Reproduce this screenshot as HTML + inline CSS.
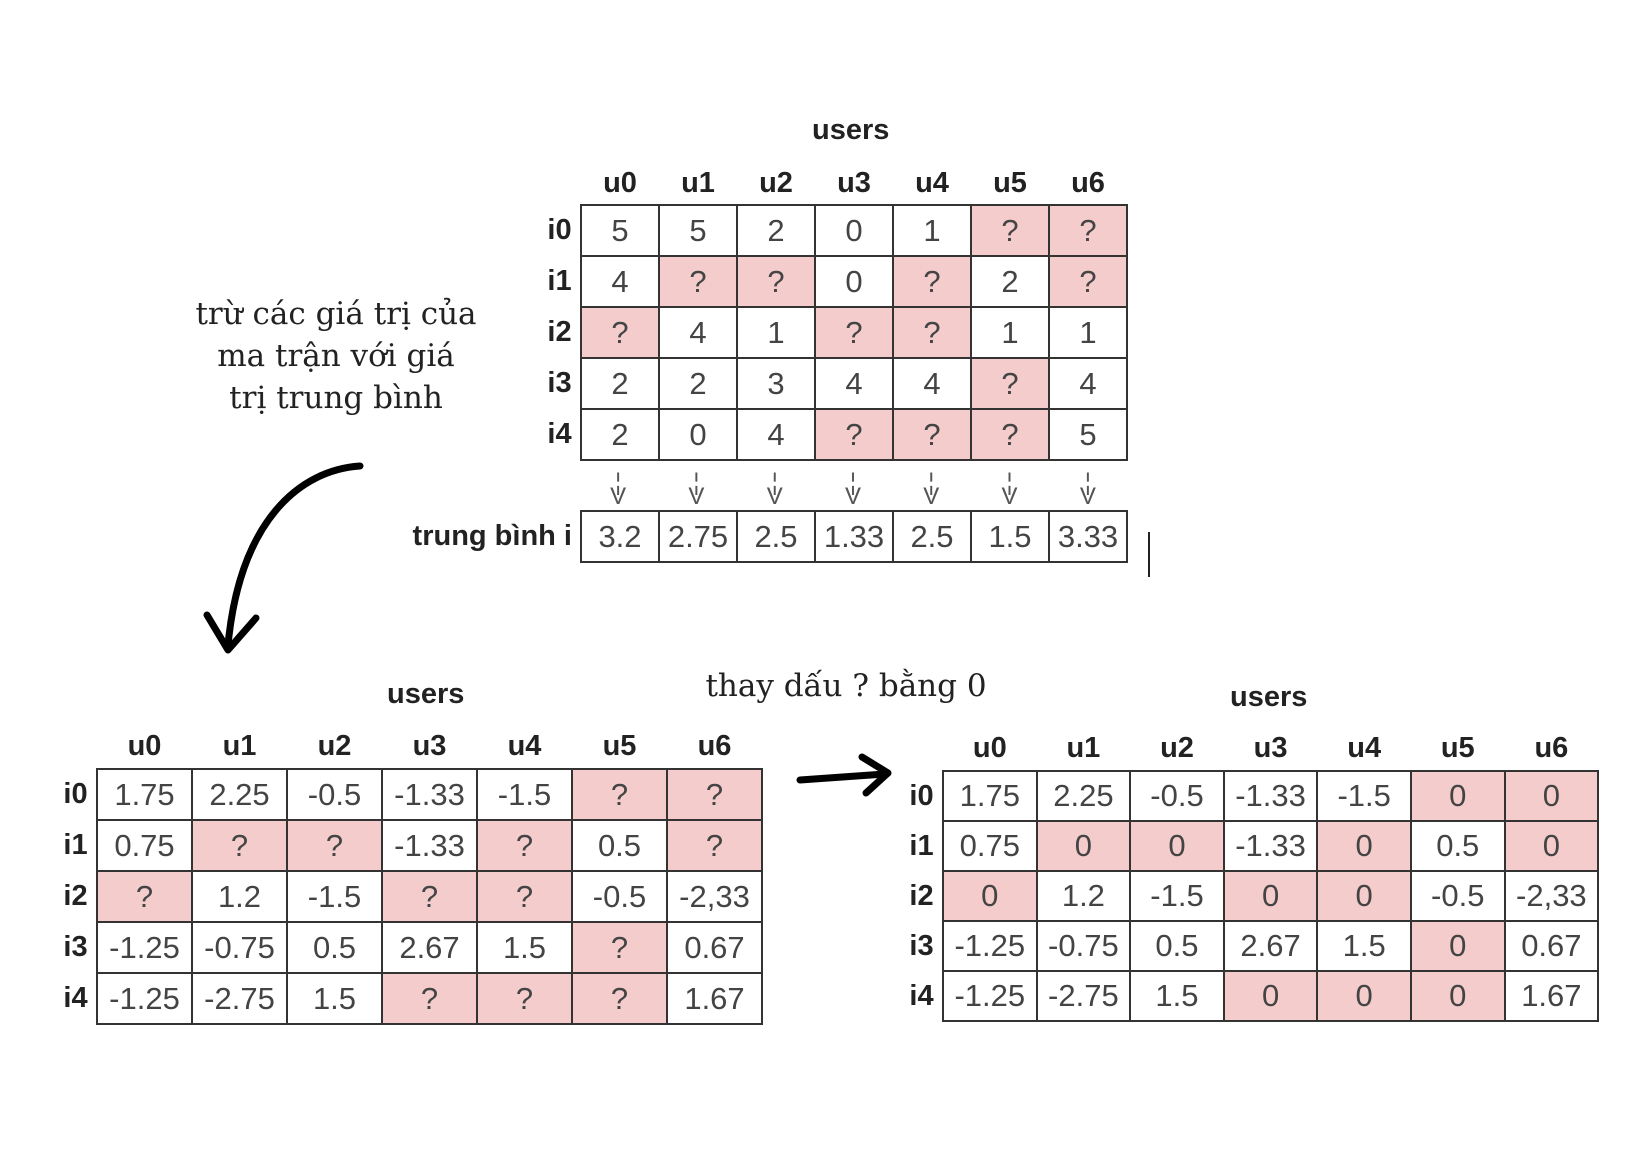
<!DOCTYPE html>
<html><head><meta charset="utf-8"><style>
body{margin:0;width:1650px;height:1171px;background:#fff;position:relative;overflow:hidden;font-family:"Liberation Sans",sans-serif}
.t{position:absolute;border-collapse:collapse}
.t td{border:2px solid #333;text-align:center;color:#444;font-size:31px;padding:0;background:#fff}
.t td.p{background:#f4cccc}
.t th{font-weight:bold;color:#222;font-size:29px;padding:0}
.lab{position:absolute;font-weight:bold;font-size:29px;color:#222}
.serif{position:absolute;font-family:"DejaVu Serif","Liberation Serif",serif;font-size:31px;color:#222;text-align:center;line-height:42px;white-space:nowrap}
</style></head><body>

<div class="lab" style="left:812px;top:114px">users</div>
<table class="t" style="left:539px;top:163px">
<tr style="height:42px"><th style="width:42px"></th><th style="width:78px">u0</th><th style="width:78px">u1</th><th style="width:78px">u2</th><th style="width:78px">u3</th><th style="width:78px">u4</th><th style="width:78px">u5</th><th style="width:78px">u6</th></tr>
<tr style="height:51px"><th>i0</th><td>5</td><td>5</td><td>2</td><td>0</td><td>1</td><td class="p">?</td><td class="p">?</td></tr>
<tr style="height:51px"><th>i1</th><td>4</td><td class="p">?</td><td class="p">?</td><td>0</td><td class="p">?</td><td>2</td><td class="p">?</td></tr>
<tr style="height:51px"><th>i2</th><td class="p">?</td><td>4</td><td>1</td><td class="p">?</td><td class="p">?</td><td>1</td><td>1</td></tr>
<tr style="height:51px"><th>i3</th><td>2</td><td>2</td><td>3</td><td>4</td><td>4</td><td class="p">?</td><td>4</td></tr>
<tr style="height:51px"><th>i4</th><td>2</td><td>0</td><td>4</td><td class="p">?</td><td class="p">?</td><td class="p">?</td><td>5</td></tr>
</table>

<div style="position:absolute;left:579px;top:476px;width:548px;display:flex;font-size:24px;color:#555;line-height:14px">
<div style="width:78.3px;text-align:center">¦<br>V</div><div style="width:78.3px;text-align:center">¦<br>V</div><div style="width:78.3px;text-align:center">¦<br>V</div><div style="width:78.3px;text-align:center">¦<br>V</div><div style="width:78.3px;text-align:center">¦<br>V</div><div style="width:78.3px;text-align:center">¦<br>V</div><div style="width:78.3px;text-align:center">¦<br>V</div></div>

<div class="lab" style="left:396px;top:520px;width:176px;text-align:right">trung bình i</div>
<table class="t" style="left:580px;top:510px">
<tr style="height:51px"><td style="width:76px">3.2</td><td style="width:76px">2.75</td><td style="width:76px">2.5</td><td style="width:76px">1.33</td><td style="width:76px">2.5</td><td style="width:76px">1.5</td><td style="width:76px">3.33</td></tr>
</table>
<div style="position:absolute;left:1148px;top:532px;width:2px;height:45px;background:#222"></div>

<div class="serif" style="left:166px;top:293px;width:340px">trừ các giá trị của<br>ma trận với giá<br>trị trung bình</div>
<div class="serif" style="left:656px;top:665px;width:380px">thay dấu ? bằng 0</div>

<svg style="position:absolute;left:0;top:0" width="1650" height="1171">
<path d="M360 466 C 300 470, 240 520, 228 645" stroke="#000" stroke-width="7" fill="none" stroke-linecap="round"/>
<path d="M207 615 L228 650 L256 618" stroke="#000" stroke-width="7" fill="none" stroke-linecap="round" stroke-linejoin="round"/>
<path d="M800 780 L885 774" stroke="#000" stroke-width="7" fill="none" stroke-linecap="round"/>
<path d="M862 757 L888 773 L866 793" stroke="#000" stroke-width="7" fill="none" stroke-linecap="round" stroke-linejoin="round"/>
</svg>

<div class="lab" style="left:387px;top:678px">users</div>
<table class="t" style="left:55px;top:725px">
<tr style="height:44px"><th style="width:42px"></th><th style="width:95px">u0</th><th style="width:95px">u1</th><th style="width:95px">u2</th><th style="width:95px">u3</th><th style="width:95px">u4</th><th style="width:95px">u5</th><th style="width:95px">u6</th></tr>
<tr style="height:51px"><th>i0</th><td>1.75</td><td>2.25</td><td>-0.5</td><td>-1.33</td><td>-1.5</td><td class="p">?</td><td class="p">?</td></tr>
<tr style="height:51px"><th>i1</th><td>0.75</td><td class="p">?</td><td class="p">?</td><td>-1.33</td><td class="p">?</td><td>0.5</td><td class="p">?</td></tr>
<tr style="height:51px"><th>i2</th><td class="p">?</td><td>1.2</td><td>-1.5</td><td class="p">?</td><td class="p">?</td><td>-0.5</td><td>-2,33</td></tr>
<tr style="height:51px"><th>i3</th><td>-1.25</td><td>-0.75</td><td>0.5</td><td>2.67</td><td>1.5</td><td class="p">?</td><td>0.67</td></tr>
<tr style="height:51px"><th>i4</th><td>-1.25</td><td>-2.75</td><td>1.5</td><td class="p">?</td><td class="p">?</td><td class="p">?</td><td>1.67</td></tr>
</table>

<div class="lab" style="left:1230px;top:681px">users</div>
<table class="t" style="left:901px;top:727px">
<tr style="height:44px"><th style="width:42px"></th><th style="width:93.6px">u0</th><th style="width:93.6px">u1</th><th style="width:93.6px">u2</th><th style="width:93.6px">u3</th><th style="width:93.6px">u4</th><th style="width:93.6px">u5</th><th style="width:93.6px">u6</th></tr>
<tr style="height:50px"><th>i0</th><td>1.75</td><td>2.25</td><td>-0.5</td><td>-1.33</td><td>-1.5</td><td class="p">0</td><td class="p">0</td></tr>
<tr style="height:50px"><th>i1</th><td>0.75</td><td class="p">0</td><td class="p">0</td><td>-1.33</td><td class="p">0</td><td>0.5</td><td class="p">0</td></tr>
<tr style="height:50px"><th>i2</th><td class="p">0</td><td>1.2</td><td>-1.5</td><td class="p">0</td><td class="p">0</td><td>-0.5</td><td>-2,33</td></tr>
<tr style="height:50px"><th>i3</th><td>-1.25</td><td>-0.75</td><td>0.5</td><td>2.67</td><td>1.5</td><td class="p">0</td><td>0.67</td></tr>
<tr style="height:50px"><th>i4</th><td>-1.25</td><td>-2.75</td><td>1.5</td><td class="p">0</td><td class="p">0</td><td class="p">0</td><td>1.67</td></tr>
</table>
</body></html>
